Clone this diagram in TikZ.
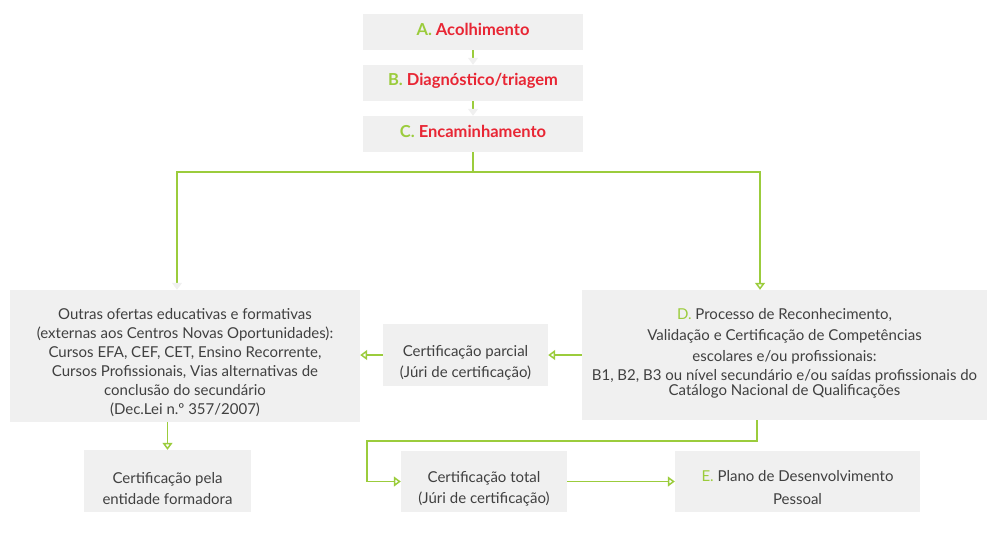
\documentclass[tikz,border=0pt]{standalone}
\usepackage{fontspec}
\setmainfont{Lato}
\usetikzlibrary{arrows.meta}
\definecolor{lgreen}{RGB}{155,204,60}
\definecolor{lred}{RGB}{232,38,52}
\definecolor{boxgray}{RGB}{240,240,240}
\definecolor{txtgray}{RGB}{64,64,64}

\begin{document}
\begin{tikzpicture}[x=1pt, y=-1pt,
  box/.style={fill=boxgray, inner sep=0pt},
  txt/.style={text=txtgray, align=center, inner sep=0pt,
    font=\fontsize{15}{19}\selectfont},
  steptxt/.style={text=lred, inner sep=0pt,
    font=\fontsize{16.5}{19}\selectfont\bfseries},
  link/.style={draw=lgreen, line width=1.5pt},
  arr/.style={link, -{Triangle[open, width=10pt, length=7pt]}},
  faint/.style={link, -{Triangle[width=10pt, length=7pt, color=boxgray]}}]
  \useasboundingbox (0,0) rectangle (987,544);

  %coordinates
  \coordinate (split)  at (473,172);
  \coordinate (brleft) at (177,172);
  \coordinate (brright) at (760,172);
  \coordinate (dturn)  at (757,441);
  \coordinate (tturn)  at (367,441);

  %boxes
  \node[box, minimum width=220, minimum height=36] (A) at (473,32) {};
  \node[box, minimum width=220, minimum height=36] (B) at (473,83) {};
  \node[box, minimum width=220, minimum height=36] (C) at (473,134) {};
  \node[box, minimum width=350, minimum height=132] (F) at (185,356) {};
  \node[box, minimum width=405, minimum height=130] (D) at (784.5,355) {};
  \node[box, minimum width=165, minimum height=62] (P) at (465.5,355) {};
  \node[box, minimum width=167, minimum height=62] (G) at (167.5,481) {};
  \node[box, minimum width=166, minimum height=61] (T) at (484,481.5) {};
  \node[box, minimum width=245, minimum height=61] (E) at (797.5,481.5) {};

  %texts
  \node[steptxt] (Atext) at ([yshift=3pt]A.center) {\textcolor{lgreen}{A.} Acolhimento};
  \node[steptxt] (Btext) at ([yshift=2pt]B.center) {\textcolor{lgreen}{B.} Diagnóstico/triagem};
  \node[steptxt] (Ctext) at ([yshift=3pt]C.center) {\textcolor{lgreen}{C.} Encaminhamento};
  \node[txt] (Ftext) at ([yshift=-7pt]F.center)
    {Outras ofertas educativas e formativas\\
     (externas aos Centros Novas Oportunidades):\\
     Cursos EFA, CEF, CET, Ensino Recorrente,\\
     Cursos Profissionais, Vias alternativas de\\
     conclusão do secundário\\
     (Dec.Lei n.º 357/2007)};
  \node[txt] (Dtext) at ([yshift=2pt]D.center)
    {\textcolor{lgreen}{D.} Processo de Reconhecimento,\\[2pt]
     Validação e Certificação de Competências\\[2pt]
     escolares e/ou profissionais:\\
     B1, B2, B3 ou nível secundário e/ou saídas profissionais do\\[-4pt]
     Catálogo Nacional de Qualificações};
  \node[txt] (Ptext) at ([yshift=-8pt]P.center)
    {Certificação parcial\\[2pt](Júri de certificação)};
  \node[txt] (Gtext) at ([yshift=-8pt]G.center)
    {Certificação pela\\[2pt]entidade formadora};
  \node[txt] (Ttext) at ([yshift=-7pt]T.center)
    {Certificação total\\[2pt](Júri de certificação)};
  \node[txt] (Etext) at ([yshift=-6pt]E.center)
    {\textcolor{lgreen}{E.} Plano de Desenvolvimento\\[4pt]Pessoal};

  %connectors
  \draw[faint] (A) -- (B);
  \draw[faint] (B) -- (C);
  \draw[link] (C) -- (split);
  \draw[faint] (split) -| (brleft |- F.north);
  \draw[arr] (split) -| (brright |- D.north);
  \draw[arr] (D.west) -- (P.east);
  \draw[arr] (P.west) -- (P.west -| F.east);
  \draw[arr] (G.north |- F.south) -- (G.north);
  \draw[arr] (dturn |- D.south) -- (dturn) -- (tturn) |- (T.west);
  \draw[arr] (T.east) -- (E.west);
\end{tikzpicture}
\end{document}
